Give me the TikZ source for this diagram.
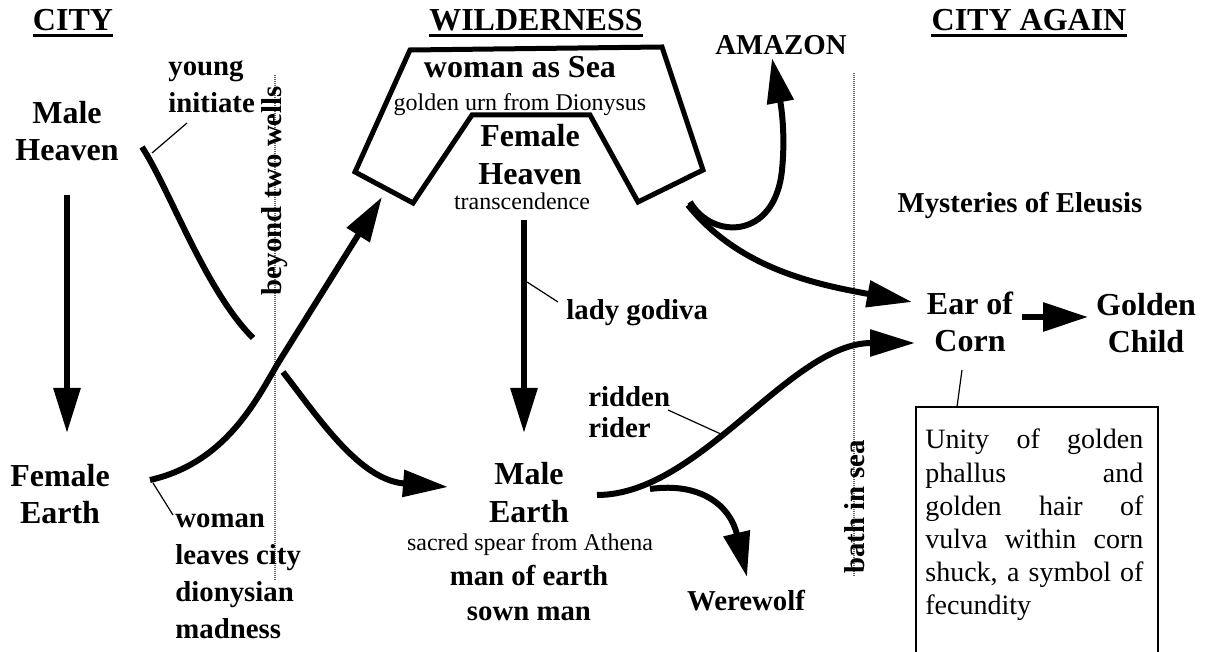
\documentclass[tikz,border=0pt]{standalone}
\usepackage{fontspec}
\setmainfont{Liberation Serif}
\usetikzlibrary{arrows.meta}
\newcommand\ctab[1]{\begin{tabular}[t]{@{}c@{}}#1\end{tabular}}
\newcommand\ltab[1]{\begin{tabular}[t]{@{}l@{}}#1\end{tabular}}
\begin{document}
\begin{tikzpicture}[x=0.5pt,y=-0.5pt]
\tikzset{
  conn/.style={line width=3pt, -{Triangle[length=22.5pt,width=13pt]}},
  plainconn/.style={line width=3pt},
  leader/.style={line width=0.6pt},
  wellline/.style={draw=black!60, line width=1pt, dash pattern=on 0.5pt off 0.5pt},
  big/.style={font=\fontsize{16}{18.5}\selectfont\bfseries, inner sep=0pt, anchor=base},
  note/.style={font=\fontsize{14.4}{18.5}\selectfont\bfseries, inner sep=0pt, anchor=base west},
  small/.style={font=\fontsize{12}{14}\selectfont, inner sep=0pt, anchor=base},
  uline/.style={line width=1.5pt},
  wild/.style={line width=2.5pt, line join=miter},
}
\fill[white] (0,0) rectangle (1206,652);
\useasboundingbox (0,0) rectangle (1206,652);

% dotted boundaries
\coordinate (w1) at (275,75);  \coordinate (w2) at (275,580);
\coordinate (b1) at (854,73);  \coordinate (b2) at (854,577);
\draw[wellline] (w1) -- (w2);
\draw[wellline] (b1) -- (b2);

% titles
\node[big] (tcity) at (73,31) {CITY};
\node[big] (twild) at (536,31) {WILDERNESS};
\node[big] (tagain) at (1029,31) {CITY AGAIN};
\draw[uline] ([yshift=-2.5pt]tcity.base west) -- ([yshift=-2.5pt]tcity.base east);
\draw[uline] ([yshift=-2.5pt]twild.base west) -- ([yshift=-2.5pt]twild.base east);
\draw[uline] ([yshift=-2.5pt]tagain.base west) -- ([yshift=-2.5pt]tagain.base east);

% wilderness shape
\draw[wild] (410,50) -- (662,47) -- (703,170) -- (638,202) -- (590,115)
  -- (472,115) -- (413,203) -- (355,172) -- cycle;

% labels
\node[note, anchor=base] (amazon) at (781,55) {AMAZON};
\node[big] (mh) at (67,124) {\ctab{Male\\Heaven}};
\node[big] (fe) at (60,487) {\ctab{Female\\Earth}};
\node[note] (young) at (168,76) {\ltab{young\\initiate}};
\node[note, rotate=90, anchor=center] (wells) at (275,191) {beyond two wells};
\node[note] (woman) at (175,527) {\ltab{woman\\leaves city\\dionysian\\madness}};
\node[big] (sea) at (520,78) {woman as Sea};
\node[small] (urn) at (520,111) {golden urn from Dionysus};
\node[big, font=\fontsize{16}{19}\selectfont\bfseries] (fh) at (530,147) {\ctab{Female\\Heaven}};
\node[small] (trans) at (522,210) {transcendence};
\node[note] (godiva) at (566,320) {lady godiva};
\node[big, font=\fontsize{16}{19}\selectfont\bfseries] (me) at (529,485) {\ctab{Male\\Earth}};
\node[small] (spear) at (530,550) {sacred spear from Athena};
\node[note, anchor=base, font=\fontsize{14.4}{17.5}\selectfont\bfseries] (sown) at (529,585) {\ctab{man of earth\\sown man}};
\node[note, font=\fontsize{14.4}{15.5}\selectfont\bfseries] (ridden) at (588,407) {\ltab{ridden\\rider}};
\node[note, anchor=base] (wolf) at (746,610) {Werewolf};
\node[note, rotate=90, anchor=center] (bath) at (855,507) {bath in sea};
\node[note, anchor=base] (myst) at (1020,213) {Mysteries of Eleusis};
\node[big] (corn) at (970,315) {\ctab{Ear of\\Corn}};
\node[big] (child) at (1146,316) {\ctab{Golden\\Child}};
\node[anchor=base west, inner sep=0pt] (unity) at (925,449)
  {\parbox[t]{109pt}{\fontsize{14}{16.6}\selectfont\hyphenpenalty=10000\tolerance=10000
   Unity of golden\linebreak phallus and\linebreak golden hair of\linebreak
   vulva within corn\linebreak shuck, a symbol of\linebreak fecundity}};
\coordinate (boxbl) at (916,652); \coordinate (boxtl) at (916,407);
\coordinate (boxtr) at (1158,407); \coordinate (boxbr) at (1158,652);
\draw[line width=1pt] (boxbl) -- (boxtl) -- (boxtr) -- (boxbr);

% connector end points
\coordinate (mhOut) at (67,195);   \coordinate (feIn) at (67,433);
\coordinate (feOut) at (150,480);  \coordinate (cross) at (280,360);
\coordinate (seaIn) at (382,197);
\coordinate (mhOut2) at (142,147); \coordinate (gapA) at (253,338);
\coordinate (gapB) at (283,372);   \coordinate (meIn) at (448,487);
\coordinate (fhOut) at (524,220);  \coordinate (meTop) at (524,433);
\coordinate (meOut) at (597,495);  \coordinate (cornIn2) at (915,343);
\coordinate (branch) at (650,489); \coordinate (wolfIn) at (747,577);
\coordinate (seaOut1) at (690,202); \coordinate (amzMid) at (782,170);
\coordinate (amzIn) at (772,58);
\coordinate (seaOut2) at (688,205); \coordinate (cornIn1) at (912,302);
\coordinate (cornOut) at (1022,317); \coordinate (childIn) at (1088,317);

% connectors
\draw[conn] (mhOut) -- (feIn);
\draw[conn] (feOut) .. controls (230,462) and (260,392) .. (cross) -- (seaIn);
\draw[plainconn] (mhOut2) .. controls (170,190) and (205,290) .. (gapA);
\draw[conn] (gapB) .. controls (320,420) and (360,480) .. (meIn);
\draw[conn] (fhOut) -- (meTop);
\draw[conn] (meOut) .. controls (700,495) and (790,343) .. (cornIn2);
\draw[conn] (branch) .. controls (700,482) and (730,505) .. (wolfIn);
\draw[conn] (seaOut1) .. controls (712,240) and (775,240) .. (amzMid)
  .. controls (786,130) and (780,100) .. (amzIn);
\draw[conn] (seaOut2) .. controls (740,270) and (820,285) .. (cornIn1);
\draw[conn, -{Triangle[length=22.5pt,width=14pt]}] (cornOut) -- (childIn);

% leader lines
\coordinate (l1a) at (187,123); \coordinate (l1b) at (152,153);
\coordinate (l2a) at (153,483); \coordinate (l2b) at (173,515);
\coordinate (l3a) at (527,282); \coordinate (l3b) at (558,302);
\coordinate (l4a) at (668,410); \coordinate (l4b) at (723,435);
\coordinate (l5a) at (962,370); \coordinate (l5b) at (957,407);
\draw[leader] (l1a) -- (l1b);
\draw[leader] (l2a) -- (l2b);
\draw[leader] (l3a) -- (l3b);
\draw[leader] (l4a) -- (l4b);
\draw[leader] (l5a) -- (l5b);
\end{tikzpicture}
\end{document}
